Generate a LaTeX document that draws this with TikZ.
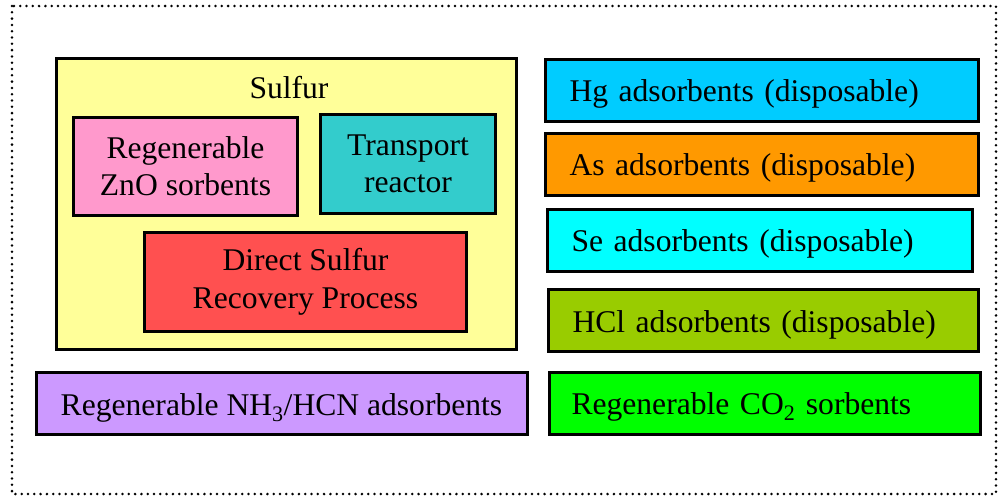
\documentclass[tikz,border=0pt]{standalone}
\usepackage{fontspec}
\setmainfont{Liberation Serif}
\usepackage{tikz}
\usetikzlibrary{positioning}

\definecolor{sulfuryellow}{HTML}{FFFF99}
\definecolor{znopink}{HTML}{FF99CC}
\definecolor{reactorteal}{HTML}{33CCCC}
\definecolor{dsrpred}{HTML}{FF5050}
\definecolor{hgblue}{HTML}{00CCFF}
\definecolor{asorange}{HTML}{FF9900}
\definecolor{secyan}{HTML}{00FFFF}
\definecolor{hclgreen}{HTML}{99CC00}
\definecolor{cotwogreen}{HTML}{00FF00}
\definecolor{nhpurple}{HTML}{CC99FF}

\begin{document}
\begin{tikzpicture}[x=1pt, y=-1pt,
    box/.style={rectangle, draw, line width=3pt, inner sep=0pt, align=center, font=\fontsize{31.6}{37.5}\selectfont},
    oneline/.style={text height=24pt, text depth=1pt},
    sorbent/.style={box, oneline, anchor=west, minimum height=62pt, inner xsep=24pt, align=left},
    frame/.style={line width=2.8pt, line cap=round, dash pattern=on 0pt off 6.3pt}]

\useasboundingbox (0,0) rectangle (998,496);
\draw [frame] (12,6) rectangle (996,494);

% Sulfur group
\node [box, fill=sulfuryellow, minimum width=460pt, minimum height=291pt] (sulfur) at (286,203.5) {};
\node [font=\fontsize{31.6}{37.5}\selectfont, inner sep=0pt] (sulfurlabel) at (289,88) {Sulfur};
\node [box, fill=znopink, minimum width=224pt, minimum height=98pt] (zno) at (185.5,166) {Regenerable\\ZnO sorbents};
\node [box, fill=reactorteal, minimum width=175pt, minimum height=99pt] (transport) at (408,164) {Transport\\reactor};
\node [box, fill=dsrpred, minimum width=322pt, minimum height=99pt] (dsrp) at (305.5,282) {Direct Sulfur\\Recovery Process};

% Disposable adsorbents
\node [sorbent, fill=hgblue, text width=385pt] (hg) at (544,90) {Hg adsorbents (disposable)};
\node [sorbent, fill=asorange, text width=385pt] (as) at (544,164) {As adsorbents (disposable)};
\node [sorbent, fill=secyan, text width=377pt] (se) at (546,240) {Se adsorbents (disposable)};
\node [sorbent, fill=hclgreen, text width=382pt] (hcl) at (547,320.5) {HCl adsorbents (disposable)};

% Regenerable sorbents
\node [sorbent, fill=cotwogreen, inner xsep=22pt, text width=387pt] (cotwo) at (548,403) {Regenerable CO\textsubscript{2} sorbents};
\node [box, oneline, fill=nhpurple, minimum width=491pt, minimum height=62pt] (nhhcn) at (281.5,403.5) {Regenerable NH\textsubscript{3}/HCN adsorbents};

\end{tikzpicture}
\end{document}
